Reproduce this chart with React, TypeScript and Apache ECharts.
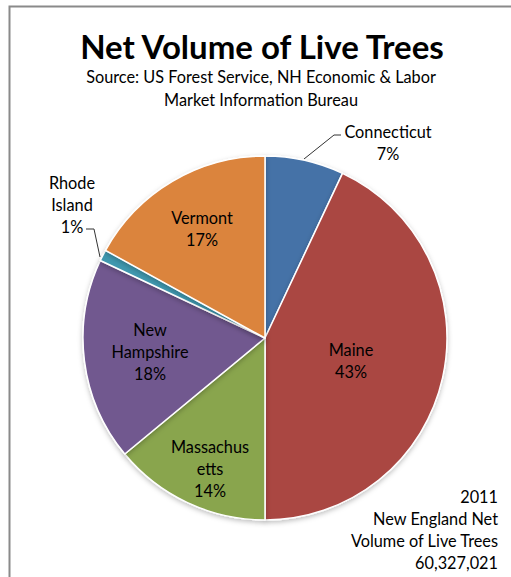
import React, { useEffect, useRef } from 'react';
import * as echarts from 'echarts';

const states = ['Connecticut', 'Maine', 'Massachusetts', 'New Hampshire', 'Rhode Island', 'Vermont'];
const labelNames = ['Connecticut', 'Maine', 'Massachus\netts', 'New\nHampshire', 'Rhode\nIsland', 'Vermont'];
const percents = [7, 43, 14, 18, 1, 17];
const colors = ['#4572A7', '#AA4643', '#89A54E', '#71588F', '#4198AF', '#DB843D'];
const titleText = 'Net Volume of Live Trees';
const subtitleText = 'Source: US Forest Service, NH Economic & Labor\nMarket Information Bureau';
const noteLines = ['2011', 'New England Net', 'Volume of Live Trees', '60,327,021'];

const FONT = 'Lato, "Open Sans", sans-serif';

// label layout (pixel positions of label centres)
const labelCenters: Record<string, [number, number]> = {
  Connecticut: [388, 142],
  Maine: [351, 360],
  Massachusetts: [210, 468],
  'New Hampshire': [150, 351],
  'Rhode Island': [72, 204],
  Vermont: [202, 228],
};
const leaderLines: Record<string, number[][]> = {
  Connecticut: [[304, 159], [334, 135], [341, 135]],
  'Rhode Island': [[100, 257], [94, 229], [86, 229]],
};

export default function App() {
  const ref = useRef<HTMLDivElement>(null);
  useEffect(() => {
    if (!ref.current) return;
    const chart = echarts.init(ref.current, undefined, { renderer: 'svg' });
    const data = states.map((s, i) => {
      const outside = !!leaderLines[s];
      return {
        name: s,
        value: percents[i],
        itemStyle: { color: colors[i] },
        label: {
          show: true,
          position: outside ? 'outside' : 'inside',
          formatter: `${labelNames[i]}\n${percents[i]}%`,
        },
        labelLine: { show: outside, lineStyle: { color: '#333', width: 1 } },
      };
    });
    chart.setOption({
      animation: false,
      backgroundColor: '#fff',
      graphic: [
        {
          type: 'rect',
          shape: { x: 9.5, y: 6.5, width: 700, height: 700 },
          style: { fill: 'none', stroke: '#8a8a8a', lineWidth: 2 },
          silent: true,
        },
        {
          type: 'text',
          x: 262,
          y: 46,
          style: {
            text: titleText,
            font: `bold 33px ${FONT}`,
            fill: '#000',
            align: 'center',
            verticalAlign: 'middle',
          },
        },
        {
          type: 'text',
          x: 261,
          y: 88,
          style: {
            text: subtitleText,
            font: `16.3px ${FONT}`,
            lineHeight: 23,
            fill: '#000',
            align: 'center',
            verticalAlign: 'middle',
          },
        },
        {
          type: 'text',
          x: 498,
          y: 529,
          style: {
            text: noteLines.join('\n'),
            font: `16.3px ${FONT}`,
            lineHeight: 22,
            fill: '#000',
            align: 'right',
            verticalAlign: 'middle',
          },
        },
      ],
      series: [
        {
          type: 'pie',
          center: [265, 338],
          radius: 182,
          startAngle: 90,
          clockwise: true,
          avoidLabelOverlap: false,
          itemStyle: {
            borderColor: '#fff',
            borderWidth: 1.5,
            shadowBlur: 5,
            shadowColor: 'rgba(0,0,0,0.25)',
            shadowOffsetY: 2,
          },
          label: {
            fontFamily: FONT,
            fontSize: 16.3,
            lineHeight: 22,
            color: '#000',
            align: 'center',
          },
          labelLayout: (params: any) => {
            const name = states[params.dataIndex];
            const c = labelCenters[name];
            const res: any = {
              x: c[0],
              y: c[1],
              align: 'center',
              verticalAlign: 'middle',
            };
            if (leaderLines[name]) res.labelLinePoints = leaderLines[name];
            return res;
          },
          data,
        },
      ],
    });
    return () => chart.dispose();
  }, []);
  return (
    <div
      ref={ref}
      style={{ position: 'fixed', left: 0, top: 0, width: 511, height: 577 }}
    />
  );
}
